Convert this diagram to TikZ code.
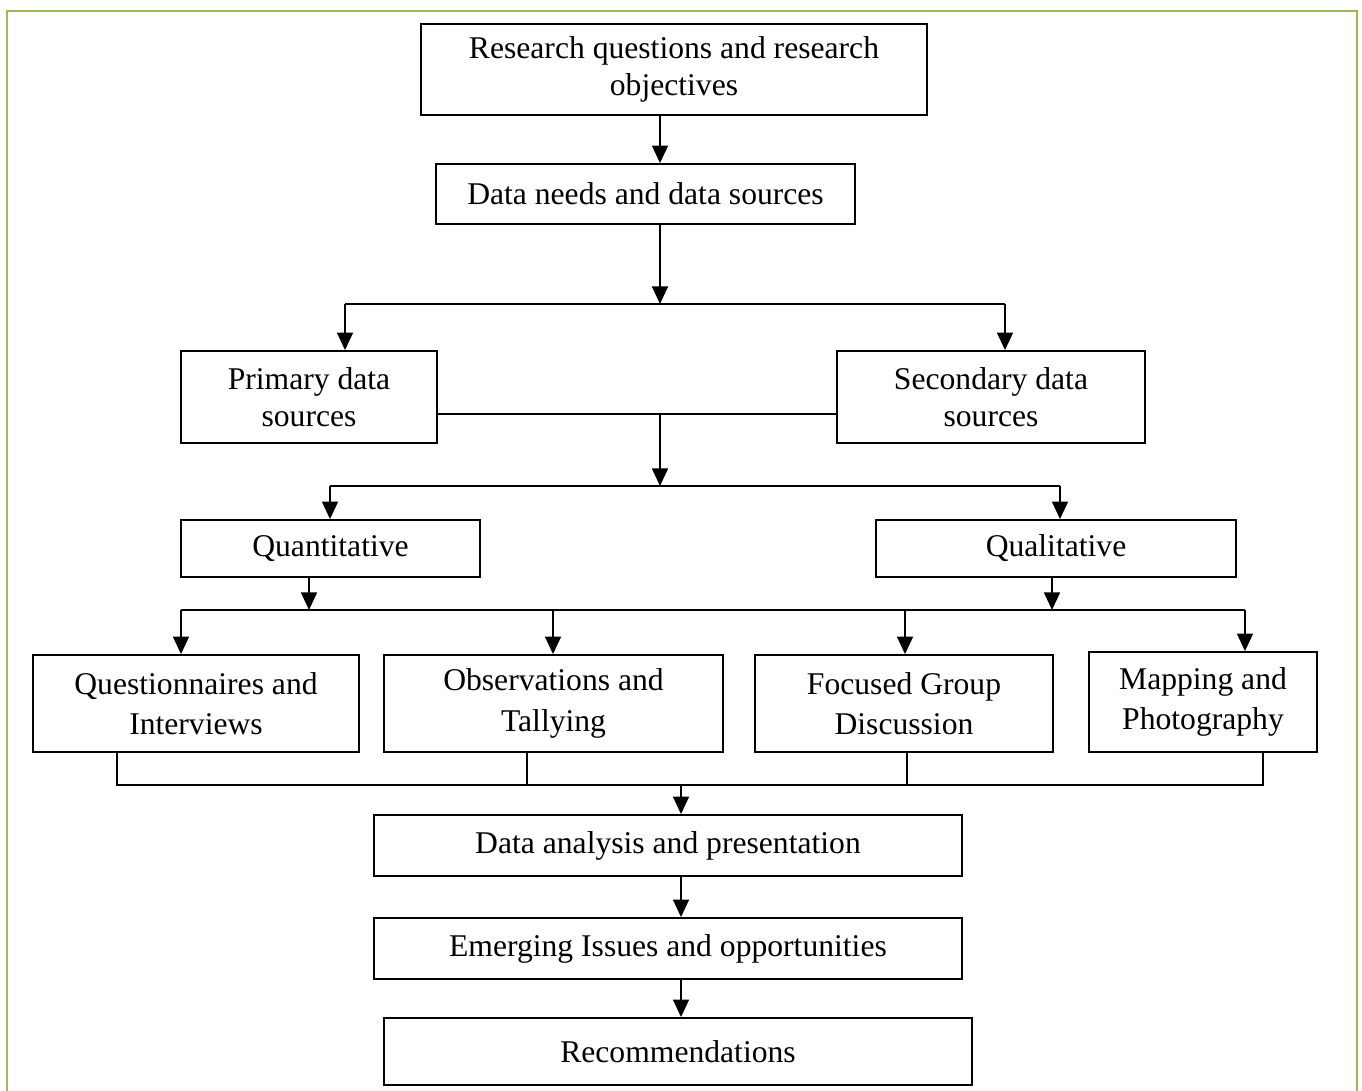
\documentclass[tikz,border=0pt]{standalone}
\usepackage{fontspec}
\setmainfont{Liberation Serif}
\usetikzlibrary{arrows.meta}
\usetikzlibrary{positioning}

\begin{document}
\begin{tikzpicture}[x=0.02cm, y=-0.02cm,
    box/.style={draw, line width=1pt, align=center, inner sep=0pt,
        font=\fontsize{18}{21}\selectfont},
    arr/.style={-{Triangle[width=9pt, length=10pt]}, line width=1.3pt},
    link/.style={line width=0.9pt},
    thinlink/.style={line width=0.7pt}]
    \useasboundingbox (0,0) rectangle (1362,1091);
    \draw[line width=1.6pt, color={rgb,255:red,155;green,187;blue,89}]
        (7,1091) -- (7,11) -- (1357,11) -- (1357,1091);

    % boxes
    \node[box, minimum width=10.12cm, minimum height=1.82cm] (research) at (674,69.5) {Research questions and research\\objectives};
    \node[box, minimum width=8.38cm, minimum height=1.2cm] (needs) at (645.5,194) {Data needs and data sources};
    \node[box, minimum width=5.12cm, minimum height=1.84cm] (primary) at (309,397) {Primary data\\sources};
    \node[box, minimum width=6.16cm, minimum height=1.84cm] (secondary) at (991,397) {Secondary data\\sources};
    \node[box, minimum width=5.98cm, minimum height=1.14cm] (quant) at (330.5,548.5) {Quantitative};
    \node[box, minimum width=7.2cm, minimum height=1.14cm] (qual) at (1056,548.5) {Qualitative};
    \node[box, minimum width=6.52cm, minimum height=1.94cm, font=\fontsize{18}{23}\selectfont] (quest) at (196,703.5) {Questionnaires and\\Interviews};
    \node[box, minimum width=6.78cm, minimum height=1.94cm, font=\fontsize{18}{23}\selectfont] (observ) at (553.5,703.5) {Observations and\\Tallying};
    \node[box, minimum width=5.96cm, minimum height=1.94cm, font=\fontsize{18}{23}\selectfont] (focus) at (904,703.5) {Focused Group\\Discussion};
    \node[box, minimum width=4.56cm, minimum height=2cm, font=\fontsize{18}{23}\selectfont] (mapping) at (1203,702) {Mapping and\\Photography};
    \node[box, minimum width=11.76cm, minimum height=1.22cm] (analysis) at (668,845.5) {Data analysis and presentation};
    \node[box, minimum width=11.76cm, minimum height=1.22cm] (issues) at (668,948.5) {Emerging Issues and opportunities};
    \node[box, minimum width=11.76cm, minimum height=1.34cm] (recs) at (678,1051.5) {Recommendations};

    % junctions
    \coordinate (split1) at (660,304);
    \coordinate (split1l) at (345,304);
    \coordinate (split1r) at (1005,304);
    \coordinate (mid2) at (660,414);
    \coordinate (split2) at (660,486);
    \coordinate (split2l) at (330,486);
    \coordinate (split2r) at (1060,486);
    \coordinate (split3l) at (181,610);
    \coordinate (split3r) at (1245,610);
    \coordinate (qt) at (309,610);
    \coordinate (ql) at (1052,610);
    \coordinate (ob) at (553,610);
    \coordinate (fg) at (905,610);
    \coordinate (join) at (681,785);
    \coordinate (joinl) at (117,785);
    \coordinate (joinr) at (1263,785);
    \coordinate (joinob) at (527,785);
    \coordinate (joinfg) at (907,785);

    % connectors
    \draw[arr] (research.south -| split1) -- (needs.north -| split1);
    \draw[arr] (needs.south -| split1) -- (split1);
    \draw[link] (split1l) -- (split1r);
    \draw[arr] (split1l) -- (primary.north -| split1l);
    \draw[arr] (split1r) -- (secondary.north -| split1r);
    \draw[link] (primary.east |- mid2) -- (secondary.west |- mid2);
    \draw[arr] (mid2) -- (split2);
    \draw[link] (split2l) -- (split2r);
    \draw[arr] (split2l) -- (quant.north -| split2l);
    \draw[arr] (split2r) -- (qual.north -| split2r);
    \draw[arr] (quant.south -| qt) -- (qt);
    \draw[arr] (qual.south -| ql) -- (ql);
    \draw[link] (split3l) -- (split3r);
    \draw[arr] (split3l) -- (quest.north -| split3l);
    \draw[arr] (ob) -- (observ.north -| ob);
    \draw[arr] (fg) -- (focus.north -| fg);
    \draw[arr] (split3r) -- (mapping.north -| split3r);
    \draw[thinlink] (quest.south -| joinl) -- (joinl) -- (joinr) -- (mapping.south -| joinr);
    \draw[thinlink] (observ.south -| joinob) -- (joinob);
    \draw[thinlink] (focus.south -| joinfg) -- (joinfg);
    \draw[arr] (join) -- (analysis.north -| join);
    \draw[arr] (analysis.south -| join) -- (issues.north -| join);
    \draw[arr] (issues.south -| join) -- (recs.north -| join);
\end{tikzpicture}
\end{document}
